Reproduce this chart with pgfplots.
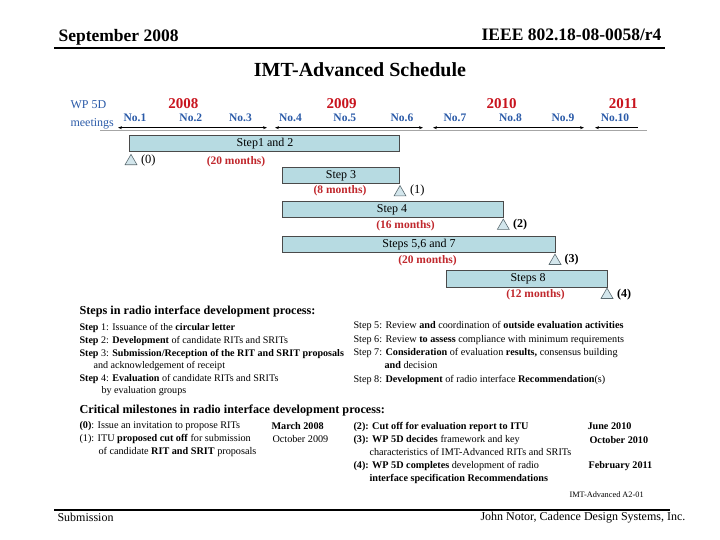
\documentclass[border=0pt]{standalone}
\usepackage{pgfplots}
\pgfplotsset{compat=1.18}
\usepackage{fontspec}
\setmainfont{Liberation Serif}
\usetikzlibrary{arrows.meta}
\definecolor{barfill}{HTML}{B7DBE2}
\definecolor{bardraw}{HTML}{4A4A4A}
\definecolor{trifill}{HTML}{D3E6EC}
\definecolor{tridraw}{HTML}{5A6A70}
\definecolor{wpblue}{HTML}{2A5AA8}
\definecolor{yrred}{HTML}{C8141E}
\definecolor{durred}{HTML}{C0282D}
\newcommand\fs[1]{\fontsize{#1}{#1}\selectfont}
\begin{document}
\begin{tikzpicture}
\useasboundingbox (0,0) rectangle (720pt,540pt);
\begin{axis}[at={(0pt,0pt)}, anchor=south west, scale only axis, width=720pt, height=540pt,
  xmin=0, xmax=720, ymin=0, ymax=540, y dir=reverse, hide axis, clip=false,
  every node/.style={inner sep=0pt}]
% header / footer rules
\addplot[black, line width=2pt] coordinates {(54,48.3) (665,48.3)};
\addplot[black, line width=2pt] coordinates {(54,510) (670,510)};
\node[anchor=base west, font=\bfseries\fs{17.5}] at (axis cs:55,41.5) {September 2008};
\node[anchor=base east, font=\bfseries\fs{17.5}] at (axis cs:665,41) {IEEE 802.18-08-0058/r4};
\node[font=\bfseries\fs{20}] at (axis cs:360,70) {IMT-Advanced Schedule};
\node[anchor=west, font=\fs{12}] at (axis cs:54,517.5) {Submission};
\node[anchor=west, font=\fs{12}] at (axis cs:477,517.5) {John Notor, Cadence Design Systems, Inc.};
% meetings row
\node[anchor=west, font=\fs{12}, text=wpblue] at (axis cs:67,105) {WP 5D};
\node[anchor=west, font=\fs{12}, text=wpblue] at (axis cs:67,123.5) {meetings};
\node[font=\bfseries\fs{15}, text=yrred] at (axis cs:183.3,103.5) {2008};
\node[font=\bfseries\fs{15}, text=yrred] at (axis cs:341.6,103.5) {2009};
\node[font=\bfseries\fs{15}, text=yrred] at (axis cs:501.6,103.5) {2010};
\node[font=\bfseries\fs{15}, text=yrred] at (axis cs:623.4,103.5) {2011};
\node[font=\bfseries\fs{11.5}, text=wpblue] at (axis cs:135,117.5) {No.1};
\node[font=\bfseries\fs{11.5}, text=wpblue] at (axis cs:190.8,117.5) {No.2};
\node[font=\bfseries\fs{11.5}, text=wpblue] at (axis cs:240.5,117.5) {No.3};
\node[font=\bfseries\fs{11.5}, text=wpblue] at (axis cs:290.5,117.5) {No.4};
\node[font=\bfseries\fs{11.5}, text=wpblue] at (axis cs:344.8,117.5) {No.5};
\node[font=\bfseries\fs{11.5}, text=wpblue] at (axis cs:402,117.5) {No.6};
\node[font=\bfseries\fs{11.5}, text=wpblue] at (axis cs:455,117.5) {No.7};
\node[font=\bfseries\fs{11.5}, text=wpblue] at (axis cs:510.5,117.5) {No.8};
\node[font=\bfseries\fs{11.5}, text=wpblue] at (axis cs:563,117.5) {No.9};
\node[font=\bfseries\fs{11.5}, text=wpblue] at (axis cs:615,117.5) {No.10};
\addplot[gray!70, line width=0.8pt] coordinates {(100,130.5) (647,130.5)};
\addplot[black, line width=0.7pt, {Stealth[length=4pt,width=3pt]}-{Stealth[length=4pt,width=3pt]}] coordinates {(118,127.7) (267,127.7)};
\addplot[black, line width=0.7pt, {Stealth[length=4pt,width=3pt]}-{Stealth[length=4pt,width=3pt]}] coordinates {(275,127.7) (423,127.7)};
\addplot[black, line width=0.7pt, {Stealth[length=4pt,width=3pt]}-{Stealth[length=4pt,width=3pt]}] coordinates {(433,127.7) (584,127.7)};
\addplot[black, line width=0.7pt, {Stealth[length=4pt,width=3pt]}-] coordinates {(595,127.7) (638,127.7)};
% gantt bars
\addplot[fill=barfill, draw=bardraw, line width=0.8pt] coordinates {(129.3,135.7) (399.5,135.7) (399.5,151.7) (129.3,151.7)} -- cycle;
\addplot[fill=barfill, draw=bardraw, line width=0.8pt] coordinates {(282.3,167.3) (399.5,167.3) (399.5,183.3) (282.3,183.3)} -- cycle;
\addplot[fill=barfill, draw=bardraw, line width=0.8pt] coordinates {(282.3,201) (503.3,201) (503.3,217.5) (282.3,217.5)} -- cycle;
\addplot[fill=barfill, draw=bardraw, line width=0.8pt] coordinates {(282.3,236) (555,236) (555,252.3) (282.3,252.3)} -- cycle;
\addplot[fill=barfill, draw=bardraw, line width=0.8pt] coordinates {(446.7,270.5) (607.3,270.5) (607.3,287) (446.7,287)} -- cycle;
\node[font=\fs{12}] at (axis cs:265,144) {Step1 and 2};
\node[font=\fs{12}] at (axis cs:341,175.5) {Step 3};
\node[font=\fs{12}] at (axis cs:392,209.5) {Step 4};
\node[font=\fs{12}] at (axis cs:419,244.5) {Steps 5,6 and 7};
\node[font=\fs{12}] at (axis cs:528,279) {Steps 8};
\node[font=\bfseries\fs{11.5}, text=durred] at (axis cs:236,161.5) {(20 months)};
\node[font=\bfseries\fs{11.5}, text=durred] at (axis cs:340,191) {(8 months)};
\node[font=\bfseries\fs{11.5}, text=durred] at (axis cs:405.5,226) {(16 months)};
\node[font=\bfseries\fs{11.5}, text=durred] at (axis cs:427.5,261) {(20 months)};
\node[font=\bfseries\fs{11.5}, text=durred] at (axis cs:535.5,295) {(12 months)};
% milestones
\addplot[only marks, mark=triangle*, mark size=6.9pt, mark options={fill=trifill, draw=tridraw, line width=0.6pt}]
  coordinates {(131,161.3) (400,192.5) (503.3,226) (555,261) (607,295)};
\node[anchor=west, font=\fs{12.5}] at (axis cs:137.5,160.5) {(0)};
\node[anchor=west, font=\fs{12.5}] at (axis cs:406.5,190.5) {(1)};
\node[anchor=west, font=\bfseries\fs{12}] at (axis cs:509.5,225) {(2)};
\node[anchor=west, font=\bfseries\fs{12}] at (axis cs:561,260) {(3)};
\node[anchor=west, font=\bfseries\fs{12}] at (axis cs:613.5,295) {(4)};
% steps text
\node[anchor=west, font=\bfseries\fs{12.2}] at (axis cs:76,312) {Steps in radio interface development process:};
\node[anchor=west, font=\fs{10.1}] at (axis cs:76,328) {\textbf{Step} 1: Issuance of the \textbf{circular letter}};
\node[anchor=west, font=\fs{10.1}] at (axis cs:76,341) {\textbf{Step} 2: \textbf{Development} of candidate RITs and SRITs};
\node[anchor=west, font=\fs{10.1}] at (axis cs:76,354) {\textbf{Step} 3: \textbf{Submission/Reception of the RIT and SRIT proposals}};
\node[anchor=west, font=\fs{10.1}] at (axis cs:90,366) {and acknowledgement of receipt};
\node[anchor=west, font=\fs{10.1}] at (axis cs:76,379) {\textbf{Step} 4: \textbf{Evaluation} of candidate RITs and SRITs};
\node[anchor=west, font=\fs{10.1}] at (axis cs:98,391) {by evaluation groups};
\node[anchor=west, font=\fs{10.2}] at (axis cs:350,326) {Step 5: Review \textbf{and} coordination of \textbf{outside evaluation activities}};
\node[anchor=west, font=\fs{10.2}] at (axis cs:350,340) {Step 6: Review \textbf{to assess} compliance with minimum requirements};
\node[anchor=west, font=\fs{10.2}] at (axis cs:350,353.5) {Step 7: \textbf{Consideration} of evaluation \textbf{results,} consensus building};
\node[anchor=west, font=\fs{10.2}] at (axis cs:381,365) {\textbf{and} decision};
\node[anchor=west, font=\fs{10.2}] at (axis cs:350,379.5) {Step 8: \textbf{Development} of radio interface \textbf{Recommendation}(s)};
% milestones text
\node[anchor=west, font=\bfseries\fs{12.2}] at (axis cs:76,410.5) {Critical milestones in radio interface development process:};
\node[anchor=west, font=\fs{10.2}] at (axis cs:76,426) {\textbf{(0)}: Issue an invitation to propose RITs};
\node[anchor=west, font=\fs{10.2}] at (axis cs:76,439.3) {(1): ITU \textbf{proposed cut off} for submission};
\node[anchor=west, font=\fs{10.2}] at (axis cs:95,452) {of candidate \textbf{RIT and SRIT} proposals};
\node[anchor=west, font=\fs{10.2}] at (axis cs:268,426) {\textbf{March 2008}};
\node[anchor=west, font=\fs{10.2}] at (axis cs:269,439.3) {October 2009};
\node[anchor=west, font=\fs{10.2}] at (axis cs:350,426.5) {\textbf{(2): Cut off for evaluation report to ITU}};
\node[anchor=west, font=\fs{10.2}] at (axis cs:350,439.8) {\textbf{(3): WP 5D decides} framework and key};
\node[anchor=west, font=\fs{10.2}] at (axis cs:366,452.3) {characteristics of IMT-Advanced RITs and SRITs};
\node[anchor=west, font=\fs{10.2}] at (axis cs:350,466) {\textbf{(4): WP 5D completes} development of radio};
\node[anchor=west, font=\fs{10.2}] at (axis cs:366,479) {\textbf{interface specification Recommendations}};
\node[anchor=west, font=\bfseries\fs{10.2}] at (axis cs:584,426.5) {June 2010};
\node[anchor=west, font=\bfseries\fs{10.2}] at (axis cs:586,440) {October 2010};
\node[anchor=west, font=\bfseries\fs{10.2}] at (axis cs:585,466) {February 2011};
\node[anchor=west, font=\fs{8.3}] at (axis cs:566,494.5) {IMT-Advanced A2-01};
\end{axis}
\end{tikzpicture}
\end{document}
